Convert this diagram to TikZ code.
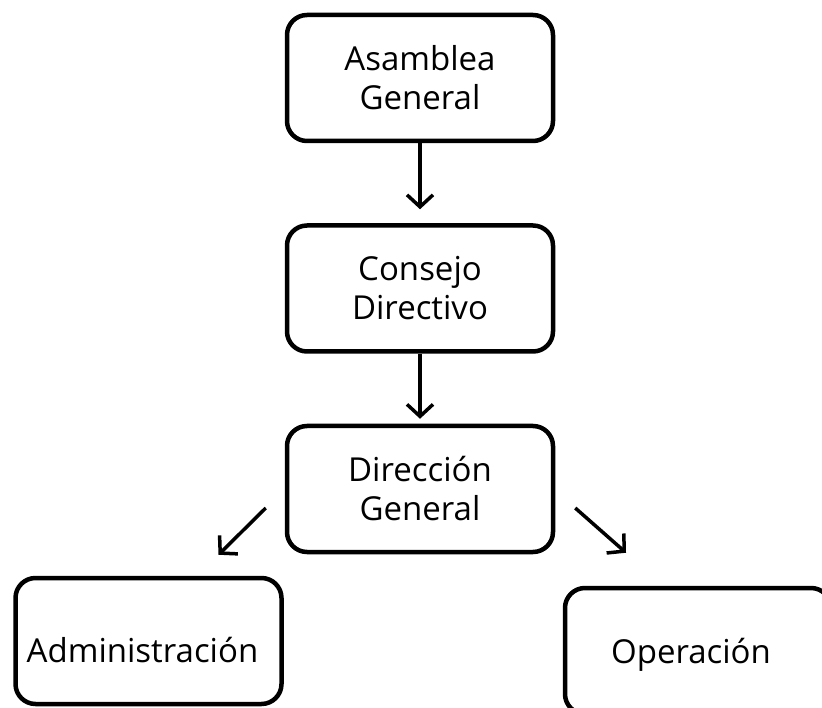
\documentclass[tikz,border=0pt]{standalone}
\usepackage{fontspec}
\setmainfont{Open Sans}
\usetikzlibrary{positioning,arrows.meta}

\begin{document}
\begin{tikzpicture}[x=1pt, y=-1pt, node distance=80pt,
    caja/.style={draw, line width=4.5pt, rounded corners=20pt, minimum width=266pt,
      minimum height=126pt, align=center, font=\fontsize{33}{39}\selectfont},
    flecha/.style={-{Straight Barb[length=12pt,width=26pt]}, line width=3.5pt}]
        \useasboundingbox (0,0) rectangle (822,708);
        \clip (0,0) rectangle (822,708);
        \node[caja] (asamblea) at (420,78) {Asamblea\\General};
        \node[caja] (consejo) [below=of asamblea] {Consejo\\Directivo};
        \node[caja] (direccion) [below=70pt of consejo] {Dirección\\General};
        \node[caja, text height=43pt, text depth=0pt] (admin) at (148.5,641) {Administración\hspace*{12pt}};
        \node[caja, text height=33pt, text depth=8pt] (operacion) at (698,651) {Operación\hspace*{14pt}};
        \coordinate (dirIzq) at ([xshift=-19pt,yshift=-19pt]direccion.west);
        \coordinate (admArr) at ([xshift=70pt,yshift=21pt]admin.north);
        \coordinate (dirDer) at ([xshift=20pt,yshift=-19pt]direccion.east);
        \coordinate (opeArr) at ([xshift=-72pt,yshift=33pt]operacion.north);
        \draw[flecha, shorten >=14pt] (asamblea) -- (consejo);
        \draw[flecha, shorten >=5pt] (consejo) -- (direccion);
        \draw[flecha] (dirIzq) -- (admArr);
        \draw[flecha] (dirDer) -- (opeArr);
  \end{tikzpicture}
\end{document}
